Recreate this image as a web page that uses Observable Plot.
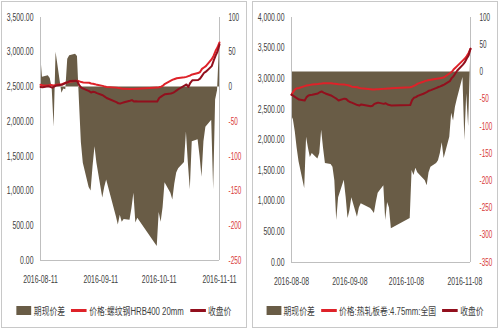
<!DOCTYPE html>
<html><head><meta charset="utf-8">
<script src="https://cdn.jsdelivr.net/npm/d3@7"></script>
<script src="https://cdn.jsdelivr.net/npm/@observablehq/plot@0.6"></script>
<style>
body{margin:0;background:#fff;}
#wrap{position:relative;width:500px;height:330px;font-family:"Liberation Sans","Noto Sans CJK SC",sans-serif;}
.panel{position:absolute;top:1px;width:246px;height:327px;border:1px solid #c8c8c8;box-sizing:border-box;background:#fff;}
#p1{left:1px}
#p2{left:252px}
.legend{display:flex;justify-content:center;align-items:center;font-size:10px;color:#404040;margin-top:11px;white-space:nowrap;transform:scaleX(0.78);transform-origin:center;width:244px;}
.legend .item{display:flex;align-items:center;margin:0 4px;}
.legend .sw{display:inline-block;margin-right:3px;}
svg{display:block;}
</style>
</head><body>
<div id="wrap"><div class="panel" id="p1"></div><div class="panel" id="p2"></div></div>
<script>
// ---------- Left panel: 螺纹钢 ----------
const leftDates = ["2016-08-11","2016-08-12","2016-08-15","2016-08-16","2016-08-17","2016-08-18","2016-08-19","2016-08-22","2016-08-23","2016-08-24","2016-08-25","2016-08-26","2016-08-29","2016-08-30","2016-08-31",
"2016-09-01","2016-09-02","2016-09-05","2016-09-06","2016-09-07","2016-09-08","2016-09-09","2016-09-12","2016-09-13","2016-09-14","2016-09-19","2016-09-20","2016-09-21","2016-09-22","2016-09-23","2016-09-26","2016-09-27","2016-09-28","2016-09-29","2016-09-30",
"2016-10-10","2016-10-11","2016-10-12","2016-10-13","2016-10-14","2016-10-17","2016-10-18","2016-10-19","2016-10-20","2016-10-21","2016-10-24","2016-10-25","2016-10-26","2016-10-27","2016-10-28","2016-10-31",
"2016-11-01","2016-11-02","2016-11-03","2016-11-04","2016-11-07","2016-11-08","2016-11-09","2016-11-10","2016-11-11"];
const leftBasis = [50,14,16,12,-2,-58,50,-9,-3,-4,40,45,47,44,-20,
-80,-110,-145,-150,-115,-86,-110,-160,-145,-134,-187,-199,-185,-195,-191,-192,-175,-153,-196,-189,
-230,-181,-195,-174,-138,-153,-163,-140,-124,-118,-109,-65,-110,-148,-79,-76,
-100,-130,-79,-58,-48,-148,-19,-5,60];
const leftSpot = [2530,2525,2520,2530,2525,2520,2530,2540,2550,2560,2565,2575,2585,2590,2580,
2570,2565,2560,2550,2545,2540,2530,2515,2505,2500,2490,2485,2480,2475,2475,2470,2470,2472,2475,2475,
2490,2495,2505,2520,2545,2590,2605,2615,2625,2630,2640,2645,2655,2665,2680,2700,
2715,2760,2780,2800,2900,2950,3020,3070,3140];
const leftClose = [2500,2495,2510,2500,2490,2505,2520,2530,2545,2560,2570,2585,2590,2575,2520,
2490,2475,2440,2420,2430,2425,2410,2380,2360,2340,2280,2265,2260,2270,2280,2300,2310,2290,2295,2290,
2290,2340,2360,2380,2395,2405,2415,2430,2450,2470,2520,2535,2500,2560,2595,2600,
2620,2660,2700,2720,2800,2880,2950,3010,3110];
const leftXDomain = ["2016-08-11","2016-11-11"];
const leftXTicks = ["2016-08-11","2016-09-11","2016-10-11","2016-11-11"];
const leftPriceTicks = [0,500,1000,1500,2000,2500,3000,3500];
const leftBasisTicks = [100,50,0,-50,-100,-150,-200,-250];
const leftLegend = ["期现价差","价格:螺纹钢HRB400 20mm","收盘价"];

// ---------- Right panel: 热轧板卷 ----------
const rightDates = ["2016-08-08","2016-08-09","2016-08-10","2016-08-11","2016-08-12","2016-08-15","2016-08-16","2016-08-17","2016-08-18","2016-08-19","2016-08-22","2016-08-23","2016-08-24","2016-08-25","2016-08-26","2016-08-29","2016-08-30","2016-08-31",
"2016-09-01","2016-09-02","2016-09-05","2016-09-06","2016-09-07","2016-09-08","2016-09-09","2016-09-12","2016-09-13","2016-09-14","2016-09-19","2016-09-20","2016-09-21","2016-09-22","2016-09-23","2016-09-26","2016-09-27","2016-09-28","2016-09-29","2016-09-30",
"2016-10-10","2016-10-11","2016-10-12","2016-10-13","2016-10-14","2016-10-17","2016-10-18","2016-10-19","2016-10-20","2016-10-21","2016-10-24","2016-10-25","2016-10-26","2016-10-27","2016-10-28","2016-10-31",
"2016-11-01","2016-11-02","2016-11-03","2016-11-04","2016-11-07","2016-11-08","2016-11-09","2016-11-10","2016-11-11"];
const rightBasis = [-80,-88,-110,-140,-165,-214,-120,-140,-157,-150,-160,-150,-107,-140,-168,-170,-175,-200,
-273,-231,-199,-230,-269,-255,-231,-267,-250,-242,-251,-255,-260,-240,-223,-209,-273,-240,-250,-288,
-269,-181,-190,-177,-185,-196,-200,-209,-185,-175,-168,-163,-150,-130,-159,-120,
-76,-90,-65,-50,-10,-126,-40,-100,20];
const rightSpot = [2740,2790,2830,2845,2850,2880,2890,2895,2900,2905,2915,2920,2922,2925,2925,2925,2922,2920,
2915,2910,2905,2900,2895,2885,2870,2860,2850,2845,2830,2825,2825,2828,2830,2835,2838,2840,2842,2845,
2860,2870,2885,2900,2920,2950,2965,2972,2980,2985,3000,3005,3010,3015,3025,3090,
3110,3150,3180,3210,3300,3330,3370,3420,3490];
const rightClose = [2740,2720,2700,2680,2660,2645,2700,2727,2735,2740,2760,2780,2792,2775,2760,2727,2710,2690,
2670,2645,2675,2670,2640,2620,2610,2570,2563,2580,2550,2560,2590,2600,2610,2590,2600,2580,2570,2565,
2570,2650,2690,2700,2720,2755,2770,2785,2805,2815,2850,2865,2875,2890,2905,2960,
3010,3040,3090,3135,3230,3270,3330,3380,3490];
const rightXDomain = ["2016-08-08","2016-11-11"];
const rightXTicks = ["2016-08-08","2016-09-08","2016-10-08","2016-11-08"];
const rightPriceTicks = [0,500,1000,1500,2000,2500,3000,3500,4000];
const rightBasisTicks = [100,50,0,-50,-100,-150,-200,-250,-300,-350];
const rightLegend = ["期现价差","价格:热轧板卷:4.75mm:全国","收盘价"];

// ---------- styling ----------
const OLIVE = "#695c46";
const RED = "#de2229";
const DARK = "#920f1d";
const NEG = "#d83a3a";
const AXIS = "#bfbfbf";
const TXT = "#404040";
const FONT = '"Liberation Sans",Arial,sans-serif';

// narrow the tick labels horizontally (the reference uses a compressed face)
function squeeze(svg, selector, ratio) {
  svg.querySelectorAll(selector).forEach(t => {
    const tr = t.getAttribute("transform") || "";
    t.setAttribute("transform", `${tr} scale(${ratio},1)`.trim());
  });
}

function drawPanel(el, dates, basis, spot, close, xDomain, xTicks, priceTicks, basisTicks, legend, marginBottom) {
  const yMax = d3.max(priceTicks);
  const bMax = d3.max(basisTicks), bMin = d3.min(basisTicks);
  const b2y = b => (b - bMin) * yMax / (bMax - bMin);
  const y2b = y => Math.round(y * (bMax - bMin) / yMax + bMin);
  const rows = dates.map((d, i) => ({date: new Date(d), basis: basis[i], spot: spot[i], close: close[i]}));
  const dom = xDomain.map(d => new Date(d));
  const plot = Plot.plot({
    width: 244, height: 290,
    marginLeft: 38, marginRight: 27, marginTop: 15, marginBottom,
    style: {fontFamily: FONT, fontSize: "10px", color: TXT, background: "#fff"},
    x: {type: "utc", domain: dom},
    y: {domain: [0, yMax]},
    marks: [
      Plot.areaY(rows, {x: "date", y1: () => b2y(0), y2: d => b2y(d.basis), fill: OLIVE, curve: "linear"}),
      Plot.ruleX([dom[0]], {stroke: AXIS}),
      Plot.ruleX([dom[1]], {stroke: AXIS}),
      Plot.ruleY([0], {stroke: AXIS}),
      Plot.lineY(rows, {x: "date", y: "spot", stroke: RED, strokeWidth: 2, strokeLinejoin: "round"}),
      Plot.lineY(rows, {x: "date", y: "close", stroke: DARK, strokeWidth: 2, strokeLinejoin: "round"}),
      Plot.axisY(priceTicks, {anchor: "left", tickFormat: d3.format(",.2f"), tickSize: 0, tickPadding: 7, label: null, fill: TXT, className: "ax-left"}),
      Plot.axisY(basisTicks.filter(b => b >= 0).map(b2y), {anchor: "right", tickFormat: y => String(y2b(y)), tickSize: 0, tickPadding: 9, label: null, fill: TXT, className: "ax-right"}),
      Plot.axisY(basisTicks.filter(b => b < 0).map(b2y), {anchor: "right", tickFormat: y => String(y2b(y)), tickSize: 0, tickPadding: 9, label: null, fill: NEG, className: "ax-right"}),
      Plot.axisX(xTicks.map(d => new Date(d)), {tickFormat: d3.utcFormat("%Y-%m-%d"), tickSize: 0, tickPadding: 15, label: null, fill: TXT, className: "ax-bottom"})
    ]
  });
  el.appendChild(plot);
  squeeze(plot, ".ax-left text", 0.69);
  squeeze(plot, ".ax-bottom text", 0.69);
  squeeze(plot, ".ax-right text", 0.64);

  const lg = document.createElement("div");
  lg.className = "legend";
  const kinds = [
    {w: 19, h: 9, c: OLIVE},
    {w: 20, h: 2.5, c: RED},
    {w: 20, h: 2.5, c: DARK}
  ];
  legend.forEach((t, i) => {
    const it = document.createElement("span");
    it.className = "item";
    const sw = document.createElement("span");
    sw.className = "sw";
    sw.style.width = kinds[i].w + "px";
    sw.style.height = kinds[i].h + "px";
    sw.style.background = kinds[i].c;
    const tx = document.createElement("span");
    tx.textContent = t;
    it.appendChild(sw); it.appendChild(tx);
    lg.appendChild(it);
  });
  el.appendChild(lg);
}

drawPanel(document.getElementById("p1"), leftDates, leftBasis, leftSpot, leftClose, leftXDomain, leftXTicks, leftPriceTicks, leftBasisTicks, leftLegend, 32);
drawPanel(document.getElementById("p2"), rightDates, rightBasis, rightSpot, rightClose, rightXDomain, rightXTicks, rightPriceTicks, rightBasisTicks, rightLegend, 30);
</script>
</body></html>
